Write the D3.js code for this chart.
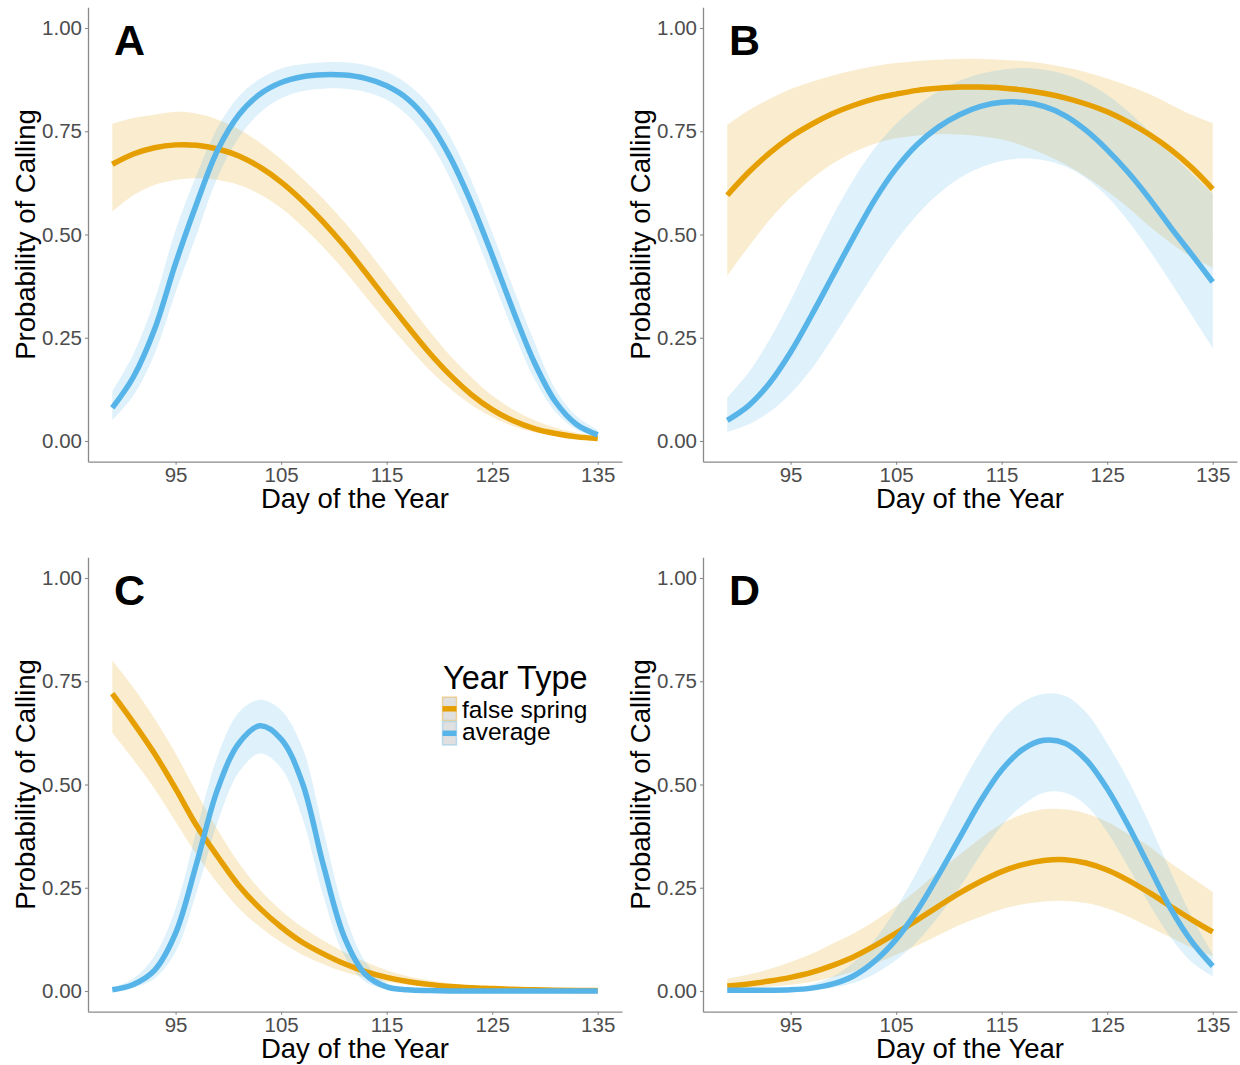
<!DOCTYPE html>
<html>
<head>
<meta charset="utf-8">
<script src="https://cdn.jsdelivr.net/npm/d3@7"></script>
<style>
  html, body { margin: 0; padding: 0; background: #ffffff; }
  svg text { font-family: "Liberation Sans", Arial, Helvetica, sans-serif; }
</style>
</head>
<body>
<svg id="chart" width="1240" height="1065"></svg>
<script>
// Day of the year at which each fitted value is reported
const days = [89, 91, 93, 95, 97, 99, 101, 103, 105, 107, 109, 111,
              113, 115, 117, 119, 121, 123, 125, 127, 129, 131, 133, 135];
const xTicks = [95, 105, 115, 125, 135];
const yTicks = [0, 0.25, 0.5, 0.75, 1];
const yearTypes = ["false spring", "average"];
const panelLetters = ["A", "B", "C", "D"];

// Panel A
const aFalseFit = [.670, .695, .710, .717, .716, .707, .690, .663, .627, .582, .530, .472,
                   .408, .342, .277, .215, .160, .113, .076, .049, .030, .018, .010, .006];
const aFalseLo  = [.555, .595, .620, .632, .636, .632, .620, .597, .564, .520, .469, .412,
                   .350, .288, .229, .174, .127, .088, .058, .036, .021, .012, .006, .003];
const aFalseHi  = [.768, .782, .790, .797, .793, .778, .755, .722, .682, .636, .586, .530,
                   .468, .402, .334, .268, .207, .155, .110, .076, .050, .032, .020, .012];
const aAvgFit   = [.080, .155, .270, .430, .575, .705, .790, .840, .868, .882, .887, .886,
                   .878, .860, .828, .772, .688, .578, .450, .315, .190, .095, .040, .015];
const aAvgLo    = [.050, .110, .210, .360, .500, .640, .735, .795, .830, .847, .853, .853,
                   .845, .826, .788, .727, .637, .523, .395, .265, .150, .070, .027, .009];
const aAvgHi    = [.120, .210, .340, .510, .645, .760, .835, .877, .902, .912, .917, .917,
                   .910, .894, .864, .815, .737, .632, .505, .370, .240, .125, .060, .027];

// Panel B
const bFalseFit = [.595, .650, .697, .736, .767, .793, .813, .829, .840, .849, .854, .857,
                   .857, .855, .850, .842, .831, .816, .797, .772, .742, .706, .662, .610];
const bFalseLo  = [.400, .470, .535, .590, .635, .672, .700, .720, .733, .740, .743, .742,
                   .738, .730, .715, .695, .670, .640, .605, .565, .520, .480, .445, .420];
const bFalseHi  = [.765, .800, .828, .852, .870, .885, .898, .908, .915, .920, .923, .925,
                   .925, .923, .920, .914, .905, .893, .878, .860, .840, .815, .790, .770];
const bAvgFit   = [.050, .085, .140, .215, .305, .400, .495, .585, .660, .718, .760, .790,
                   .810, .820, .820, .810, .788, .752, .705, .650, .587, .518, .452, .385];
const bAvgLo    = [.022, .040, .070, .115, .175, .250, .330, .410, .485, .548, .598, .636,
                   .662, .678, .684, .680, .665, .636, .592, .532, .462, .385, .305, .225];
const bAvgHi    = [.105, .165, .245, .340, .445, .545, .635, .710, .768, .812, .847, .872,
                   .889, .899, .903, .899, .888, .868, .838, .798, .750, .698, .648, .600];

// Panel C
const cFalseFit = [.720, .650, .575, .490, .400, .325, .255, .200, .155, .118, .090, .066,
                   .047, .033, .023, .016, .011, .008, .006, .004, .003, .002, .0015, .001];
const cFalseLo  = [.625, .560, .490, .410, .330, .260, .200, .155, .118, .088, .065, .046,
                   .032, .022, .015, .010, .006, .004, .0025, .0015, .001, .0006, .0004, .0003];
const cFalseHi  = [.800, .735, .660, .575, .480, .390, .310, .245, .195, .155, .122, .094,
                   .070, .050, .036, .026, .019, .014, .010, .008, .006, .004, .003, .002];
const cAvgFit   = [.003, .016, .050, .140, .310, .490, .600, .642, .610, .505, .305, .130,
                   .040, .010, .003, .001, 0, 0, 0, 0, 0, 0, 0, 0];
const cAvgLo    = [.001, .008, .030, .095, .240, .410, .530, .575, .540, .420, .230, .085,
                   .022, .005, .001, 0, 0, 0, 0, 0, 0, 0, 0, 0];
const cAvgHi    = [.008, .030, .085, .200, .390, .570, .675, .705, .680, .590, .390, .190,
                   .070, .020, .006, .002, .002, .002, .002, .002, .002, .002, .002, .002];

// Panel D
const dFalseFit = [.012, .017, .024, .033, .045, .062, .083, .110, .140, .172, .205, .237,
                   .265, .289, .306, .316, .318, .310, .293, .268, .238, .205, .173, .143];
const dFalseLo  = [.004, .006, .010, .015, .022, .033, .048, .066, .088, .110, .135, .160,
                   .180, .198, .210, .217, .218, .213, .200, .180, .155, .130, .105, .085];
const dFalseHi  = [.030, .040, .053, .070, .090, .115, .140, .170, .205, .245, .290, .330,
                   .370, .405, .428, .440, .440, .430, .410, .380, .350, .310, .275, .240];
const dAvgFit   = [.002, .002, .002, .003, .007, .017, .037, .073, .125, .195, .280, .370,
                   .460, .535, .585, .607, .600, .560, .490, .400, .300, .200, .120, .060];
const dAvgLo    = [0, 0, .001, .001, .003, .008, .020, .042, .075, .120, .180, .250,
                   .330, .400, .450, .480, .480, .450, .385, .300, .210, .130, .070, .035];
const dAvgHi    = [.005, .005, .006, .008, .016, .035, .070, .125, .200, .290, .390, .490,
                   .580, .655, .700, .720, .715, .675, .600, .510, .405, .290, .180, .090];

const colors = { "false spring": "#E69F00", "average": "#56B4E9" };

const panels = [
  { letter: panelLetters[0], left: 88,  top: 7.35,
    series: [{ type: yearTypes[0], fit: aFalseFit, lo: aFalseLo, hi: aFalseHi },
             { type: yearTypes[1], fit: aAvgFit,   lo: aAvgLo,   hi: aAvgHi }] },
  { letter: panelLetters[1], left: 703, top: 7.35,
    series: [{ type: yearTypes[0], fit: bFalseFit, lo: bFalseLo, hi: bFalseHi },
             { type: yearTypes[1], fit: bAvgFit,   lo: bAvgLo,   hi: bAvgHi }] },
  { letter: panelLetters[2], left: 88,  top: 557.35, legend: true,
    series: [{ type: yearTypes[0], fit: cFalseFit, lo: cFalseLo, hi: cFalseHi },
             { type: yearTypes[1], fit: cAvgFit,   lo: cAvgLo,   hi: cAvgHi }] },
  { letter: panelLetters[3], left: 703, top: 557.35,
    series: [{ type: yearTypes[0], fit: dFalseFit, lo: dFalseLo, hi: dFalseHi },
             { type: yearTypes[1], fit: dAvgFit,   lo: dAvgLo,   hi: dAvgHi }] }
];

const W = 534, H = 454.3;
const x = d3.scaleLinear().domain([86.7, 137.3]).range([0, W]);
const y = d3.scaleLinear().domain([-0.05, 1.05]).range([H, 0]);
const smooth = d3.curveCatmullRom.alpha(0.5);

const svg = d3.select("#chart");
const axisColor = "#8a8a8a";

panels.forEach(p => {
  const g = svg.append("g").attr("transform", `translate(${p.left},${p.top})`);

  // confidence ribbons
  p.series.forEach(s => {
    const rows = days.map((d, i) => ({ d, lo: s.lo[i], hi: s.hi[i] }));
    g.append("path")
      .datum(rows)
      .attr("fill", colors[s.type])
      .attr("fill-opacity", 0.19)
      .attr("d", d3.area()
        .x(r => x(r.d))
        .y0(r => y(Math.max(0, r.lo)))
        .y1(r => y(r.hi))
        .curve(smooth));
  });

  // fitted probability curves
  p.series.forEach(s => {
    const rows = days.map((d, i) => ({ d, v: s.fit[i] }));
    g.append("path")
      .datum(rows)
      .attr("fill", "none")
      .attr("stroke", colors[s.type])
      .attr("stroke-width", 5.5)
      .attr("d", d3.line()
        .x(r => x(r.d))
        .y(r => y(r.v))
        .curve(smooth));
  });

  // axes
  const yAxis = g.append("g")
    .call(d3.axisLeft(y).tickValues(yTicks).tickFormat(d3.format(".2f"))
      .tickSize(3).tickSizeOuter(0).tickPadding(3));
  const xAxis = g.append("g").attr("transform", `translate(0,${H})`)
    .call(d3.axisBottom(x).tickValues(xTicks).tickFormat(d3.format("d"))
      .tickSize(3).tickSizeOuter(0).tickPadding(2.5));
  [yAxis, xAxis].forEach(a => {
    a.select(".domain").attr("stroke", axisColor).attr("stroke-width", 1.3);
    a.selectAll(".tick line").attr("stroke", axisColor).attr("stroke-width", 1.1);
    a.selectAll(".tick text")
      .attr("fill", "#4d4d4d")
      .style("font-size", "20.5px")
      .style("font-family", "'Liberation Sans', Arial, sans-serif");
  });

  // axis titles
  g.append("text")
    .attr("x", W / 2).attr("y", 500.6)
    .attr("text-anchor", "middle")
    .style("font-size", "27.5px")
    .attr("fill", "#000")
    .text("Day of the Year");
  g.append("text")
    .attr("transform", `translate(-53,${H / 2}) rotate(-90)`)
    .attr("text-anchor", "middle")
    .style("font-size", "27.5px")
    .attr("fill", "#000")
    .text("Probability of Calling");

  // panel letter
  g.append("text")
    .attr("x", 26).attr("y", 48)
    .style("font-size", "43px")
    .style("font-weight", "bold")
    .attr("fill", "#000")
    .text(p.letter);

  // legend
  if (p.legend) {
    const lg = g.append("g").attr("transform", "translate(354,131.7)");
    lg.append("text")
      .attr("x", 1).attr("y", 0)
      .style("font-size", "32.5px")
      .attr("fill", "#000")
      .text("Year Type");
    yearTypes.forEach((t, i) => {
      const ky = 8 + i * 24.5;
      lg.append("rect")
        .attr("x", 0.5).attr("y", ky)
        .attr("width", 14).attr("height", 23.5)
        .attr("fill", "#e0e0e0")
        .attr("stroke", colors[t]).attr("stroke-opacity", 0.35)
        .attr("stroke-width", 1.5);
      lg.append("line")
        .attr("x1", 0.5).attr("x2", 14.5)
        .attr("y1", ky + 11.75).attr("y2", ky + 11.75)
        .attr("stroke", colors[t]).attr("stroke-width", 5.5);
      lg.append("text")
        .attr("x", 20).attr("y", 28.6 + i * 22.8)
        .style("font-size", "24.5px")
        .attr("fill", "#000")
        .text(t);
    });
  }
});
</script>
</body>
</html>
